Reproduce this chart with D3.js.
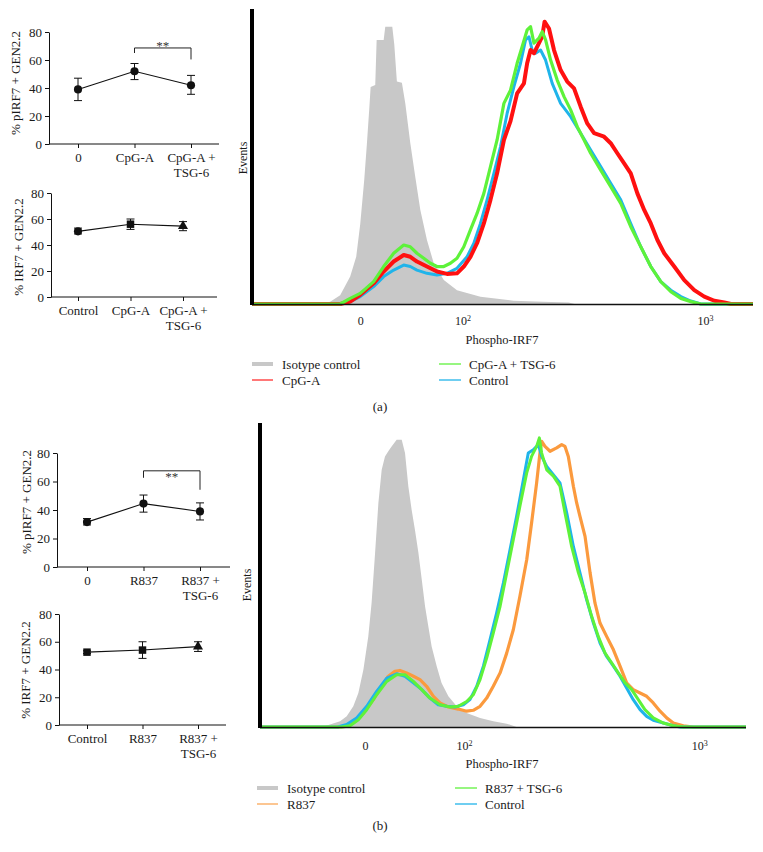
<!DOCTYPE html>
<html><head><meta charset="utf-8">
<script src="https://cdn.jsdelivr.net/npm/d3@7"></script>
<style>
body{margin:0;background:#fff}
svg{display:block}
text{font-family:"Liberation Serif","DejaVu Serif",serif;fill:#1a1a1a}
</style>
</head><body>
<svg id="c" width="763" height="852"></svg>
<script>
// ---------- dot-plot data ----------
const yTicks = [0, 20, 40, 60, 80];
const catsA1 = ["0", "CpG-A", "CpG-A + TSG-6"];
const meanA1 = [39, 52, 42];
const loA1 = [31, 46, 35.5];
const hiA1 = [47, 57.5, 49];
const catsA2 = ["Control", "CpG-A", "CpG-A + TSG-6"];
const meanA2 = [50.5, 56, 54.5];
const loA2 = [48.5, 52, 51];
const hiA2 = [53, 60, 58];
const catsB1 = ["0", "R837", "R837 + TSG-6"];
const meanB1 = [31.5, 44.5, 39];
const loB1 = [29.5, 38.5, 33];
const hiB1 = [34, 50.5, 45];
const catsB2 = ["Control", "R837", "R837 + TSG-6"];
const meanB2 = [52.5, 54, 56.5];
const loB2 = [51.5, 48, 53];
const hiB2 = [53.5, 60, 60];

// ---------- histogram data: [channel, % of max events] ----------
const histTickChannels = [54, 105, 226];
const histTickLabels = [["0", ""], ["10", "2"], ["10", "3"]];

const isoA = [[0,0],[34,0],[39,0.8],[44,3],[49,9.3],[52,16],[54,27],[56,42],[57.3,54],[58.5,66],[59.2,73.6],[61.5,74.2],[62.2,89.5],[65.7,89.5],[66.5,94],[70,94],[71,88],[72.3,75.4],[74.8,75],[76.5,68],[79,54.5],[81.5,43],[84,31.9],[87.3,21.7],[90.7,13.8],[95.7,8.1],[102.3,4.7],[114,2.5],[130.5,1.1],[145,0.8],[158,0.5],[161,0],[250,0]];
const blueA = [[0,0],[44,0],[49,0.8],[54,2.5],[60.7,5.9],[65.7,9.3],[70.7,11.5],[75.7,13.2],[79,12.7],[82.3,11.5],[87.3,10.4],[92.3,9.8],[97.3,10.4],[102.3,12.1],[107.3,16],[110.7,20.6],[114,27.3],[117.3,35.3],[120.7,44.3],[124,53.3],[127.3,64.6],[130.7,73.7],[134,81.6],[136.5,89.5],[138.2,90.6],[139.8,86.1],[141.5,85],[144,86.1],[146.5,82.7],[149.8,74.8],[154,68],[159,63.5],[164,57.9],[169,52.2],[174,46.6],[179,40.9],[184,35.3],[189,27.3],[194,19.4],[199,12.7],[204,7.6],[209,4.7],[214,2.5],[219,1],[224,0],[250,0]];
const redA = [[0,0],[44,0],[49,0.8],[54,3.1],[60.7,7],[65.7,11],[70.7,14.4],[75.7,16.6],[79,16],[82.3,14.4],[87.3,12.7],[92.3,11],[97.3,10.2],[102.3,10.4],[105.7,12.7],[109,16],[112.3,20.6],[115.7,27.3],[119,35.3],[122.3,44.3],[125.7,55.6],[129,62],[132.3,71.4],[135.7,74.8],[137.3,81.6],[139,86.1],[140.7,85],[143.2,88.4],[144.8,90.6],[146,95.7],[148.2,93.4],[150.7,86.1],[154,79.3],[157.3,75.4],[160.7,73.1],[164,66.9],[167.3,61.2],[170.7,57.9],[175.7,56.7],[179,54.5],[182.3,51.1],[185.7,47.7],[189,44.3],[192.3,37.5],[195.7,31.9],[199,27.3],[202.3,21.7],[205.7,17.2],[210.7,12.7],[215.7,8.1],[220.7,4.7],[225.7,2.5],[230.7,1.1],[235.7,0.5],[239,0],[250,0]];
const greenA = [[0,0],[44,0],[49,1.9],[54,3.6],[60.7,7.6],[65.7,12.7],[70.7,17.2],[75.7,20],[79,19.4],[82.3,17.2],[85.7,15.5],[89,13.8],[92.3,12.7],[95.7,12.7],[99,13.8],[102.3,15.5],[105.7,19.4],[109,25.1],[112.3,30.7],[115.7,37.5],[119,46.6],[122.3,55.6],[125.7,68],[129,72.5],[132.3,81.6],[134.8,87.2],[137.3,92.9],[139,94],[140.7,88.4],[143.2,90.1],[144.8,92.3],[146.5,89.5],[149,82.7],[152.3,75.9],[155.7,70.3],[159,65.8],[162.3,60.1],[165.7,55.6],[169,51.1],[174,45.4],[179,39.8],[184,34.1],[189,26.2],[194,19.4],[199,12.7],[204,7.6],[209,4.2],[214,1.9],[219,0.8],[224,0],[250,0]];

const isoB = [[0,0],[32,0],[36,0.8],[41.2,1.9],[44.6,3.5],[48,6.8],[50.6,11.2],[53.2,18.9],[55.7,29.8],[57.4,40.8],[59.2,57.2],[60.9,73.7],[62.6,84.6],[64.3,89],[66,90.7],[67.7,92.3],[70.3,94.5],[72.9,94.5],[74.6,90.1],[76.3,79.2],[78,71.5],[79.7,64.9],[81.5,57.2],[83.2,48.5],[84.9,39.7],[86.6,33.1],[88.3,26.5],[90.9,20],[93.4,14.5],[96.9,10.1],[101.2,6.8],[106.3,4.6],[113.2,3],[120,1.9],[126.9,1.1],[132,0],[250,0]];
const orangeB = [[0,0],[40,0],[44.6,0.2],[48.9,1.9],[53.2,4.6],[58.3,9],[62.6,13.4],[66,16.7],[69.4,18.3],[72,18.6],[75.4,17.8],[78.9,16.7],[82.3,15.6],[85.7,13.4],[89.2,10.1],[92.6,7.9],[96.9,6.6],[102,5.9],[106.3,5.2],[109.7,5.5],[113.2,6.8],[116.6,9.5],[120,13.4],[123.5,17.8],[126.9,24.3],[130.3,32],[133.7,43],[137.2,55],[139.7,67.1],[142.3,80.3],[144,90.1],[144.9,94],[146.6,92.3],[149.2,90.7],[152.6,91.8],[155.2,92.9],[156.9,92.3],[158.6,89],[161.2,79.2],[162.9,73.7],[164.6,69.3],[167.2,62.7],[169.8,50.7],[172.3,40.8],[174.9,34.2],[178.3,29.8],[181.8,25.4],[185.2,20],[188.6,14.5],[192,12.3],[195.5,11.2],[198.9,10.1],[202.3,7.9],[205.8,5.2],[209.2,3],[212.6,1.3],[217.8,0.4],[222.9,0],[250,0]];
const blueB = [[0,0],[40,0],[44.6,0.8],[49.7,3],[54.9,6.8],[60,11.7],[65.2,16.1],[70.3,17.5],[74.6,16.7],[78.9,14.5],[83.2,12.3],[87.4,9.5],[91.7,7.3],[96,6.8],[100.3,6.6],[104.6,7.3],[108,9],[111.5,13.4],[114.9,20],[118.3,28.7],[121.7,37.5],[125.2,47.4],[128.6,58.3],[132,69.3],[135.5,81.4],[138,90.1],[140.6,91.2],[143.2,92.9],[144.9,89],[147.5,85.7],[150.9,83],[154.3,80.3],[157.8,70.4],[161.2,59.4],[164.6,50.7],[168,41.9],[171.5,34.2],[174.9,27.6],[178.3,23.2],[181.8,20],[185.2,16.7],[188.6,12.8],[192,9],[195.5,5.7],[198.9,3.5],[202.3,2.2],[207.5,1.3],[212.6,0.4],[216.1,0],[250,0]];
const greenB = [[0,0],[42,0],[46.3,0.4],[50.6,2.4],[54.9,5.7],[60,10.6],[65.2,15],[70.3,17.2],[74.6,17.2],[78.9,15],[83.2,12.3],[87.4,9.5],[92.6,7.3],[97.7,6.6],[102,6.8],[106.3,8.4],[109.7,10.6],[113.2,15.6],[116.6,22.7],[120,30.9],[123.5,39.7],[126.9,50.7],[130.3,61.6],[133.7,72.6],[137.2,83.6],[139.7,89],[142.3,92.3],[143.7,95.1],[144.9,90.1],[147.5,84.6],[150.9,82.5],[154.3,79.2],[156.9,70.4],[160.3,59.4],[163.8,50.7],[167.2,44.1],[170.6,36.4],[174,29.8],[177.5,24.3],[180.9,21.1],[184.3,17.8],[187.8,14.5],[191.2,12.3],[194.6,9],[198,5.7],[202.3,3],[207.5,1.3],[212.6,0.4],[217.8,0],[250,0]];

const legendA = ["Isotype control", "CpG-A", "CpG-A + TSG-6", "Control"];
const legendB = ["Isotype control", "R837", "R837 + TSG-6", "Control"];

const C = {gray:"#c8c8c8", red:"#ff1010", green:"#5ef23a", blue:"#1fb4ea", orange:"#fb9a3e"};

const svg = d3.select("#c");

// ---------- dot plots ----------
function dotPlot(cfg) {
  const g = svg.append("g");
  const x = d3.scalePoint().domain(cfg.cats).range([cfg.c0, cfg.c2]);
  const y = d3.scaleLinear().domain([0, 80]).range([cfg.y0, cfg.y80]);

  const gy = g.append("g").attr("transform", `translate(${cfg.ax},0)`)
    .call(d3.axisLeft(y).tickValues(yTicks).tickSize(4).tickPadding(3).tickSizeOuter(0));
  gy.selectAll("text").style("font-size", "13px");
  gy.selectAll("line,path").attr("stroke", "#111");

  const gx = g.append("g").attr("transform", `translate(0,${cfg.y0})`)
    .call(d3.axisBottom(x).tickSize(4).tickPadding(5).tickSizeOuter(0));
  gx.select(".domain").remove();
  gx.append("line").attr("x1", cfg.ax).attr("x2", cfg.axEnd).attr("stroke", "#111");
  gx.selectAll(".tick line").attr("stroke", "#111");
  gx.selectAll(".tick text").style("font-size", "13px").each(function (d) {
    const parts = d.split(" + ");
    if (parts.length > 1) {
      const t = d3.select(this);
      t.text(null);
      t.append("tspan").attr("x", 0).text(parts[0] + " +");
      t.append("tspan").attr("x", 0).attr("dy", "1.12em").text(parts[1]);
    }
  });

  g.append("text").attr("transform", `translate(${cfg.tx},${cfg.ty}) rotate(-90)`)
    .attr("text-anchor", "middle").style("font-size", "13px").text(cfg.title);

  const pts = cfg.cats.map((c, i) => ({c, m: cfg.mean[i], lo: cfg.lo[i], hi: cfg.hi[i], s: cfg.shapes[i]}));
  g.append("path").datum(pts).attr("fill", "none").attr("stroke", "#111").attr("stroke-width", 1.1)
    .attr("d", d3.line().x(d => x(d.c)).y(d => y(d.m)));
  const eb = g.selectAll(".eb").data(pts).enter().append("g");
  eb.append("line").attr("x1", d => x(d.c)).attr("x2", d => x(d.c)).attr("y1", d => y(d.lo)).attr("y2", d => y(d.hi)).attr("stroke", "#111");
  eb.append("line").attr("x1", d => x(d.c) - 4).attr("x2", d => x(d.c) + 4).attr("y1", d => y(d.lo)).attr("y2", d => y(d.lo)).attr("stroke", "#111");
  eb.append("line").attr("x1", d => x(d.c) - 4).attr("x2", d => x(d.c) + 4).attr("y1", d => y(d.hi)).attr("y2", d => y(d.hi)).attr("stroke", "#111");
  const sym = {circle: d3.symbolCircle, square: d3.symbolSquare, triangle: d3.symbolTriangle};
  const size = {circle: 52, square: 56, triangle: 44};
  eb.append("path").attr("transform", d => `translate(${x(d.c)},${y(d.m)})`)
    .attr("d", d => d3.symbol().type(sym[d.s]).size(size[d.s])()).attr("fill", "#111");

  if (cfg.sig) {
    const s = cfg.sig;
    const xa = x(cfg.cats[s.a]), xb = x(cfg.cats[s.b]);
    g.append("path").attr("fill", "none").attr("stroke", "#222").attr("stroke-width", 1)
      .attr("d", `M${xa},${y(s.left)}V${y(s.top)}H${xb}V${y(s.right)}`);
    g.append("text").attr("x", (xa + xb) / 2).attr("y", y(s.star)).attr("text-anchor", "middle")
      .style("font-size", "13px").style("fill", "#333").text("**");
  }
}

dotPlot({cats: catsA1, mean: meanA1, lo: loA1, hi: hiA1, shapes: ["circle","circle","circle"],
  c0: 78, c2: 191, ax: 49, axEnd: 219, y0: 144, y80: 32, tx: 19.5, ty: 83, title: "% pIRF7 + GEN2.2",
  sig: {a: 1, b: 2, top: 68.6, left: 65, right: 60.4, star: 67.5}});
dotPlot({cats: catsA2, mean: meanA2, lo: loA2, hi: hiA2, shapes: ["circle","square","triangle"],
  c0: 78, c2: 183, ax: 51, axEnd: 217, y0: 297, y80: 193, tx: 22.5, ty: 247, title: "% IRF7 + GEN2.2"});
dotPlot({cats: catsB1, mean: meanB1, lo: loB1, hi: hiB1, shapes: ["circle","circle","circle"],
  c0: 87, c2: 200, ax: 57, axEnd: 230, y0: 567, y80: 453, tx: 31, ty: 502, title: "% pIRF7 + GEN2.2",
  sig: {a: 1, b: 2, top: 67.5, left: 62.6, right: 54.2, star: 60.5}});
dotPlot({cats: catsB2, mean: meanB2, lo: loB2, hi: hiB2, shapes: ["square","square","triangle"],
  c0: 87, c2: 198, ax: 59, axEnd: 226, y0: 725, y80: 614, tx: 29.5, ty: 670, title: "% IRF7 + GEN2.2"});

// ---------- histograms ----------
function histo(cfg) {
  const g = svg.append("g");
  const x = d3.scaleLinear().domain([0, 250]).range([cfg.x0, cfg.x1]);
  const y = d3.scaleLinear().domain([0, 100]).range([cfg.yb, cfg.yt]);

  g.append("path").datum(cfg.iso).attr("fill", C.gray)
    .attr("d", d3.area().x(d => x(d[0])).y0(y(0)).y1(d => y(d[1])));
  const line = d3.line().x(d => x(d[0])).y(d => y(d[1]));
  cfg.lines.forEach(l => {
    g.append("path").datum(l.data).attr("fill", "none").attr("stroke", l.color)
      .attr("stroke-width", l.w).attr("stroke-linejoin", "round").attr("d", line);
  });

  // axes
  g.append("line").attr("x1", cfg.x0).attr("x2", cfg.x1).attr("y1", cfg.yb + 0.5).attr("y2", cfg.yb + 0.5)
    .attr("stroke", "#111").attr("stroke-width", 1.3);
  g.append("line").attr("x1", cfg.x0).attr("x2", cfg.x0).attr("y1", y(100)).attr("y2", cfg.yb + 1)
    .attr("stroke", "#000").attr("stroke-width", 4);

  const ax = g.append("g").attr("transform", `translate(0,${cfg.yb})`)
    .call(d3.axisBottom(x).tickValues(histTickChannels).tickSize(0).tickPadding(cfg.tickPad).tickFormat(""));
  ax.select(".domain").remove();
  ax.selectAll(".tick text").each(function (d, i) {
    const t = d3.select(this).style("font-size", "12px");
    t.append("tspan").text(histTickLabels[i][0]);
    if (histTickLabels[i][1]) t.append("tspan").attr("dy", "-0.45em").style("font-size", "8px").text(histTickLabels[i][1]);
  });

  g.append("text").attr("transform", `translate(${cfg.evx},${cfg.evy}) rotate(-90)`)
    .attr("text-anchor", "middle").style("font-size", "12px").text("Events");
  g.append("text").attr("x", 502).attr("y", cfg.titleY).attr("text-anchor", "middle")
    .style("font-size", "12.5px").text("Phospho-IRF7");

  // legend
  const L = cfg.legend;
  g.append("rect").attr("x", L.x1).attr("y", L.r1 - 2).attr("width", 21).attr("height", 4).attr("fill", C.gray);
  g.append("line").attr("x1", L.x1).attr("x2", L.x1 + 21).attr("y1", L.r2).attr("y2", L.r2)
    .attr("stroke", cfg.lines[cfg.legIdx[1]].color).attr("stroke-width", 1.6).attr("opacity", 0.7);
  g.append("line").attr("x1", L.x2).attr("x2", L.x2 + 22).attr("y1", L.r1).attr("y2", L.r1)
    .attr("stroke", cfg.lines[cfg.legIdx[2]].color).attr("stroke-width", 1.6).attr("opacity", 0.8);
  g.append("line").attr("x1", L.x2).attr("x2", L.x2 + 22).attr("y1", L.r2).attr("y2", L.r2)
    .attr("stroke", cfg.lines[cfg.legIdx[3]].color).attr("stroke-width", 1.6).attr("opacity", 0.8);
  const labs = cfg.labels;
  [[L.x1 + 30, L.r1, labs[0]], [L.x1 + 30, L.r2, labs[1]], [L.x2 + 30, L.r1, labs[2]], [L.x2 + 30, L.r2, labs[3]]]
    .forEach(([tx, ty, s]) => g.append("text").attr("x", tx).attr("y", ty + 4.5).style("font-size", "13px").text(s));

  g.append("text").attr("x", 380).attr("y", cfg.tagY).attr("text-anchor", "middle").style("font-size", "13px").text(cfg.tag);
}

histo({x0: 252, x1: 753, yb: 304, yt: 9, iso: isoA,
  lines: [{data: blueA, color: C.blue, w: 3}, {data: redA, color: C.red, w: 4}, {data: greenA, color: C.green, w: 3.2}],
  legIdx: [null, 1, 2, 0], labels: legendA, tickPad: 12,
  evx: 247, evy: 158, titleY: 344, legend: {x1: 252, x2: 439, r1: 364, r2: 380}, tag: "(a)", tagY: 411});

histo({x0: 260, x1: 746, yb: 727, yt: 423, iso: isoB,
  lines: [{data: orangeB, color: C.orange, w: 3.2}, {data: blueB, color: C.blue, w: 3}, {data: greenB, color: C.green, w: 3}],
  legIdx: [null, 0, 2, 1], labels: legendB, tickPad: 14,
  evx: 251, evy: 585, titleY: 768, legend: {x1: 257, x2: 455, r1: 788, r2: 804}, tag: "(b)", tagY: 830});
</script>
</body></html>
